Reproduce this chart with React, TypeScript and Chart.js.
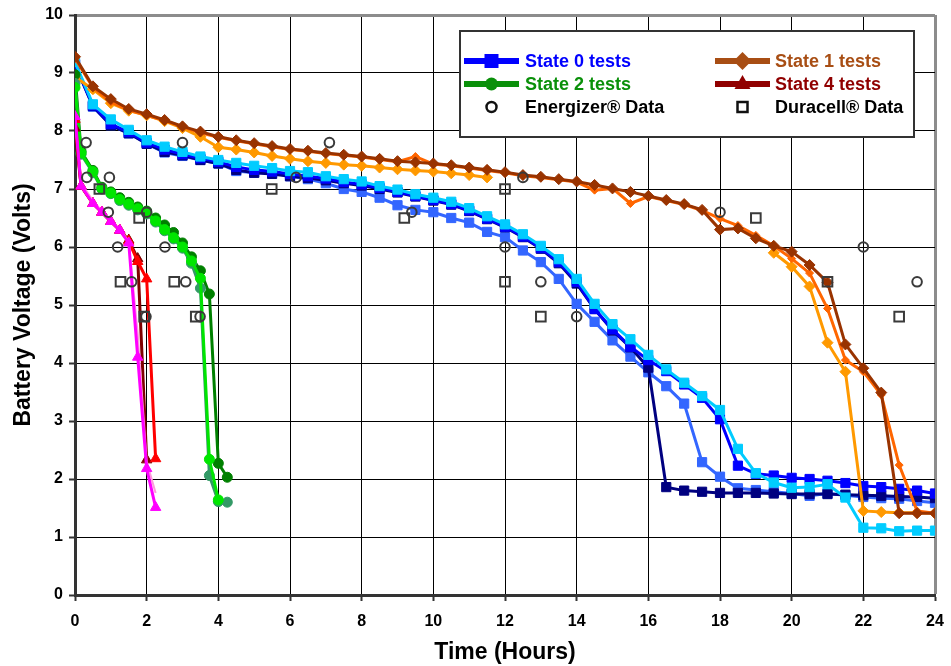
import React, { useEffect, useRef } from 'react';
import { Chart, registerables } from 'chart.js';

Chart.register(...registerables);

// ---------- DATA ----------
const halfHours = [0, 0.5, 1, 1.5, 2, 2.5, 3, 3.5, 4, 4.5, 5, 5.5, 6, 6.5, 7, 7.5, 8, 8.5, 9, 9.5, 10, 10.5, 11, 11.5, 12, 12.5, 13, 13.5, 14, 14.5, 15, 15.5, 16, 16.5, 17, 17.5, 18, 18.5, 19, 19.5, 20, 20.5, 21, 21.5, 22, 22.5, 23, 23.5, 24];

// State 0 tests (squares)
const state0Cyan = [9.19, 8.46, 8.2, 8.02, 7.84, 7.73, 7.64, 7.56, 7.5, 7.45, 7.4, 7.36, 7.31, 7.29, 7.22, 7.17, 7.13, 7.05, 6.99, 6.91, 6.85, 6.78, 6.67, 6.53, 6.39, 6.22, 6.02, 5.79, 5.45, 5.02, 4.67, 4.41, 4.14, 3.89, 3.66, 3.43, 3.19, 2.52, 2.1, 1.94, 1.85, 1.86, 1.91, 1.68, 1.16, 1.15, 1.1, 1.11, 1.11];
const state0Blue = [9.15, 8.44, 8.12, 7.98, 7.8, 7.68, 7.6, 7.53, 7.47, 7.38, 7.33, 7.3, 7.26, 7.22, 7.18, 7.12, 7.08, 7.02, 6.95, 6.88, 6.81, 6.74, 6.63, 6.49, 6.35, 6.18, 5.98, 5.74, 5.4, 4.93, 4.58, 4.28, 4.05, 3.86, 3.63, 3.4, 3.03, 2.23, 2.09, 2.06, 2.02, 2.0, 1.97, 1.93, 1.88, 1.86, 1.83, 1.8, 1.75];
const state0Navy = [9.15, 8.43, 8.1, 7.96, 7.78, 7.64, 7.58, 7.5, 7.44, 7.33, 7.28, 7.26, 7.22, 7.19, 7.15, 7.1, 7.06, 7.0, 6.94, 6.87, 6.8, 6.73, 6.62, 6.48, 6.34, 6.17, 5.97, 5.72, 5.37, 4.93, 4.56, 4.27, 3.92, 1.86, 1.8, 1.78, 1.76, 1.76, 1.76, 1.75, 1.74, 1.74, 1.74, 1.73, 1.72, 1.71, 1.7, 1.69, 1.67];
const state0Royal = [9.15, 8.42, 8.1, 7.96, 7.78, 7.63, 7.57, 7.5, 7.44, 7.31, 7.28, 7.28, 7.22, 7.17, 7.1, 7.0, 6.95, 6.85, 6.72, 6.64, 6.6, 6.5, 6.42, 6.26, 6.17, 5.94, 5.74, 5.45, 5.02, 4.71, 4.39, 4.11, 3.84, 3.6, 3.3, 2.29, 2.04, 1.84, 1.81, 1.78, 1.75, 1.71, 1.75, 1.72, 1.69, 1.67, 1.66, 1.62, 1.59];

// State 1 tests (diamonds)
const state1Brown = [9.28, 8.77, 8.55, 8.38, 8.29, 8.19, 8.08, 7.99, 7.9, 7.84, 7.79, 7.74, 7.69, 7.66, 7.62, 7.59, 7.56, 7.52, 7.48, 7.46, 7.44, 7.41, 7.37, 7.33, 7.29, 7.24, 7.21, 7.17, 7.13, 7.07, 7.01, 6.95, 6.88, 6.81, 6.74, 6.64, 6.3, 6.32, 6.15, 6.02, 5.92, 5.69, 5.39, 4.32, 3.91, 3.49, 1.41, 1.41, 1.41];
const state1Orange = [9.25, 8.75, 8.5, 8.36, 8.27, 8.18, 8.07, 7.97, 7.89, 7.83, 7.78, 7.73, 7.68, 7.65, 7.61, 7.58, 7.55, 7.51, 7.47, 7.56, 7.43, 7.4, 7.36, 7.32, 7.28, 7.23, 7.2, 7.16, 7.12, 6.98, 7.01, 6.75, 6.87, 6.8, 6.73, 6.63, 6.49, 6.37, 6.2, 6.02, 5.8, 5.55, 4.94, 4.05, 3.85, 3.45, 2.24, 1.45, 1.41];
const state1LightTimesA = [0, 0.5, 1, 1.5, 2, 2.5, 3, 3.5, 4, 4.5, 5, 5.5, 6, 6.5, 7, 7.5, 8, 8.5, 9, 9.5, 10, 10.5, 11, 11.5];
const state1LightA = [8.93, 8.72, 8.48, 8.35, 8.27, 8.17, 8.05, 7.9, 7.72, 7.68, 7.63, 7.57, 7.52, 7.48, 7.45, 7.42, 7.4, 7.37, 7.34, 7.32, 7.3, 7.27, 7.24, 7.2];
const state1LightTimesB = [19.5, 20, 20.5, 21, 21.5, 22, 22.5, 23, 23.5, 24];
const state1LightB = [5.9, 5.66, 5.32, 4.35, 3.85, 1.45, 1.43, 1.42, 1.42, 1.41];

// State 2 tests (circles)
const state2Times = [0, 0.17, 0.5, 0.75, 1, 1.25, 1.5, 1.75, 2, 2.25, 2.5, 2.75, 3, 3.25, 3.5, 3.75, 4, 4.25];
const state2Dark = [8.97, 7.65, 7.32, 7.03, 6.95, 6.85, 6.77, 6.69, 6.62, 6.5, 6.38, 6.25, 6.07, 5.83, 5.59, 5.19, 2.27, 2.03];
const state2Lime = [8.75, 7.62, 7.3, 7.01, 6.93, 6.82, 6.74, 6.66, 6.59, 6.45, 6.3, 6.16, 6.0, 5.76, 5.46, 2.34, 1.64];
const state2Sea = [8.82, 7.6, 7.28, 7.0, 6.92, 6.8, 6.72, 6.64, 6.57, 6.43, 6.28, 6.14, 5.98, 5.72, 5.29, 2.06, 1.61, 1.6];

// State 4 tests (triangles)
const state4Times = [0, 0.17, 0.5, 0.75, 1, 1.25, 1.5, 1.75, 2, 2.25];
const state4Magenta = [8.25, 7.05, 6.75, 6.6, 6.44, 6.29, 6.07, 4.1, 2.18, 1.51];
const state4Pink = [8.2, 7.1, 6.8, 6.62, 6.46, 6.3, 6.1, 4.5, 2.3, 1.76];
const state4Red = [8.2, 7.05, 6.75, 6.6, 6.44, 6.29, 6.1, 5.75, 5.45, 2.35];
const state4DarkRed = [8.05, 7.05, 6.75, 6.6, 6.44, 6.29, 6.12, 5.8, 2.33];

// Manufacturer data
const energizerTimes = [0.31, 0.33, 0.96, 0.93, 1.19, 1.58, 1.98, 2.0, 2.51, 3.0, 3.09, 3.49, 6.17, 7.1, 9.4, 12, 12.5, 13, 14, 18, 22, 23.5];
const energizerVolts = [7.8, 7.2, 7.2, 6.6, 6.0, 5.4, 4.8, 6.6, 6.0, 7.8, 5.4, 4.8, 7.2, 7.8, 6.6, 6.0, 7.2, 5.4, 4.8, 6.6, 6.0, 5.4];
const duracellTimes = [0.68, 1.27, 1.79, 1.93, 2.77, 3.37, 5.49, 9.19, 12, 12, 13, 19, 21, 23];
const duracellVolts = [7.0, 5.4, 6.5, 4.8, 5.4, 4.8, 7.0, 6.5, 7.0, 5.4, 4.8, 6.5, 5.4, 4.8];

const xTickLabels = ['0', '2', '4', '6', '8', '10', '12', '14', '16', '18', '20', '22', '24'];
const yTickLabels = ['0', '1', '2', '3', '4', '5', '6', '7', '8', '9', '10'];

const legendRows = [
  [{ text: 'State 0 tests', color: '#0000FF', marker: 'rect' }, { text: 'State 1 tests', color: '#A84E14', marker: 'rectRot' }],
  [{ text: 'State 2 tests', color: '#0A900A', marker: 'circle' }, { text: 'State 4 tests', color: '#900000', marker: 'triangle' }],
  [{ text: 'Energizer® Data', color: '#000000', marker: 'openCircle' }, { text: 'Duracell® Data', color: '#000000', marker: 'openRect' }],
];

// ---------- helpers ----------
const pts = (xs: number[], ys: number[]) => ys.map((y, i) => ({ x: xs[i], y }));

const FONT = '"Liberation Sans", Arial, sans-serif';

function lineSeries(label: string, xs: number[], ys: number[], color: string, style: string, radius: number, width = 3) {
  return {
    label,
    data: pts(xs, ys),
    showLine: true,
    borderColor: color,
    backgroundColor: color,
    borderWidth: width,
    pointStyle: style,
    pointRadius: radius,
    pointBackgroundColor: color,
    pointBorderColor: color,
    pointBorderWidth: 1,
    tension: 0,
  };
}

const legendPlugin = {
  id: 'customLegend',
  afterDraw(chart: any) {
    const ctx = chart.ctx;
    const bx = 460, by = 31, bw = 454, bh = 106;
    ctx.save();
    ctx.fillStyle = '#ffffff';
    ctx.fillRect(bx, by, bw, bh);
    ctx.strokeStyle = '#333333';
    ctx.lineWidth = 2;
    ctx.strokeRect(bx, by, bw, bh);
    const cols = [{ lx: 464, rx: 519, tx: 525 }, { lx: 715, rx: 770, tx: 775 }];
    const rowsY = [61, 84, 107];
    legendRows.forEach((row, ri) => {
      row.forEach((item, ci) => {
        const c = cols[ci];
        const y = rowsY[ri];
        const mx = (c.lx + c.rx) / 2;
        ctx.fillStyle = item.color;
        ctx.strokeStyle = item.color;
        if (item.marker === 'openCircle' || item.marker === 'openRect') {
          ctx.lineWidth = 2.5;
          ctx.strokeStyle = '#111';
          ctx.beginPath();
          if (item.marker === 'openCircle') ctx.arc(mx, y, 5, 0, Math.PI * 2);
          else ctx.rect(mx - 5, y - 5, 10, 10);
          ctx.stroke();
        } else {
          ctx.lineWidth = 6;
          ctx.beginPath();
          ctx.moveTo(c.lx, y);
          ctx.lineTo(c.rx, y);
          ctx.stroke();
          ctx.beginPath();
          if (item.marker === 'rect') ctx.rect(mx - 7, y - 7, 14, 14);
          else if (item.marker === 'rectRot') {
            ctx.moveTo(mx, y - 9); ctx.lineTo(mx + 9, y); ctx.lineTo(mx, y + 9); ctx.lineTo(mx - 9, y); ctx.closePath();
          } else if (item.marker === 'circle') ctx.arc(mx, y, 6.5, 0, Math.PI * 2);
          else if (item.marker === 'triangle') {
            ctx.moveTo(mx, y - 9); ctx.lineTo(mx + 8, y + 5); ctx.lineTo(mx - 8, y + 5); ctx.closePath();
          }
          ctx.fill();
        }
        ctx.fillStyle = item.color;
        ctx.font = `bold 18px ${FONT}`;
        ctx.textBaseline = 'middle';
        ctx.textAlign = 'left';
        ctx.fillText(item.text, c.tx, y + 1);
      });
    });
    ctx.restore();
  },
};

export default function App() {
  const ref = useRef<HTMLCanvasElement | null>(null);
  useEffect(() => {
    document.body.style.margin = '0';
    if (!ref.current) return;
    // first dataset is drawn on top
    const datasets: any[] = [
      {
        label: 'Energizer® Data', data: pts(energizerTimes, energizerVolts), showLine: false,
        pointStyle: 'circle', pointRadius: 4.8, pointBorderWidth: 2, pointBorderColor: '#3a3a3a', pointBackgroundColor: 'rgba(0,0,0,0)',
      },
      {
        label: 'Duracell® Data', data: pts(duracellTimes, duracellVolts), showLine: false,
        pointStyle: 'rect', pointRadius: 6.8, pointBorderWidth: 2, pointBorderColor: '#3a3a3a', pointBackgroundColor: 'rgba(0,0,0,0)',
      },
      // State 4
      lineSeries('State 4 magenta', state4Times, state4Magenta, '#FF00FF', 'triangle', 6),
      lineSeries('State 4 pink', state4Times, state4Pink, '#FF99DD', 'circle', 0, 2),
      lineSeries('State 4 red', state4Times, state4Red, '#FF0000', 'triangle', 6),
      lineSeries('State 4 dark red', state4Times, state4DarkRed, '#800000', 'triangle', 6),
      // State 2
      lineSeries('State 2 lime', state2Times, state2Lime, '#00E600', 'circle', 5),
      lineSeries('State 2 sea', state2Times, state2Sea, '#339966', 'circle', 5),
      lineSeries('State 2 dark', state2Times, state2Dark, '#008000', 'circle', 5),
      // State 1
      lineSeries('State 1 brown', halfHours, state1Brown, '#993300', 'rectRot', 5.5),
      lineSeries('State 1 orange', halfHours, state1Orange, '#FF6600', 'rectRot', 4),
      lineSeries('State 1 light A', state1LightTimesA, state1LightA, '#FF9900', 'rectRot', 5.5),
      lineSeries('State 1 light B', state1LightTimesB, state1LightB, '#FF9900', 'rectRot', 5.5),
      // State 0
      lineSeries('State 0 cyan', halfHours, state0Cyan, '#00CCFF', 'rect', 6.5),
      lineSeries('State 0 blue', halfHours, state0Blue, '#0000FF', 'rect', 6.5),
      lineSeries('State 0 navy', halfHours, state0Navy, '#000080', 'rect', 6.5),
      lineSeries('State 0 royal', halfHours, state0Royal, '#3366FF', 'rect', 6.5),
    ];

    const chart = new Chart(ref.current, {
      type: 'scatter',
      data: { datasets },
      options: {
        animation: false,
        responsive: false,
        devicePixelRatio: 1,
        layout: { padding: { top: 15, right: 16, left: 0, bottom: 0 } },
        plugins: { legend: { display: false }, tooltip: { enabled: false } },
        scales: {
          x: {
            type: 'linear', min: 0, max: 24,
            afterFit: (s: any) => { s.height = 71; s.paddingLeft = 0; s.paddingRight = 0; },
            ticks: {
              stepSize: 2, color: '#000', padding: 11,
              font: { family: FONT, size: 16, weight: 'bold' },
              callback: (v: any) => xTickLabels[Math.round(Number(v) / 2)] ?? '',
            },
            grid: {
              color: (c: any) => (c.tick && c.tick.value === 24 ? '#8c8c8c' : '#000'),
              lineWidth: (c: any) => (c.tick && c.tick.value === 24 ? 3 : 1),
              tickLength: 6, tickColor: '#333', tickWidth: 2,
            },
            border: { display: true, color: '#333', width: 3 },
            title: {
              display: true, text: 'Time (Hours)', color: '#000',
              font: { family: FONT, size: 23, weight: 'bold' }, padding: { top: 0, bottom: 0 },
            },
          },
          y: {
            type: 'linear', min: 0, max: 10,
            afterFit: (s: any) => { s.width = 75; s.paddingTop = 0; s.paddingBottom = 0; },
            ticks: {
              stepSize: 1, color: '#000', padding: 6,
              font: { family: FONT, size: 16, weight: 'bold' },
              callback: (v: any) => yTickLabels[Math.round(Number(v))] ?? '',
            },
            grid: {
              color: (c: any) => (c.tick && c.tick.value === 10 ? '#8c8c8c' : '#000'),
              lineWidth: (c: any) => (c.tick && c.tick.value === 10 ? 3 : 1),
              tickLength: 6, tickColor: '#333', tickWidth: 2,
            },
            border: { display: true, color: '#333', width: 3 },
            title: {
              display: true, text: 'Battery Voltage (Volts)', color: '#000',
              font: { family: FONT, size: 23, weight: 'bold' }, padding: { top: 10, bottom: 0 },
            },
          },
        },
      },
      plugins: [legendPlugin],
    } as any);
    return () => chart.destroy();
  }, []);

  return (
    <div style={{ width: 951, height: 666 }}>
      <canvas ref={ref} width={951} height={666} style={{ display: 'block' }} />
    </div>
  );
}
